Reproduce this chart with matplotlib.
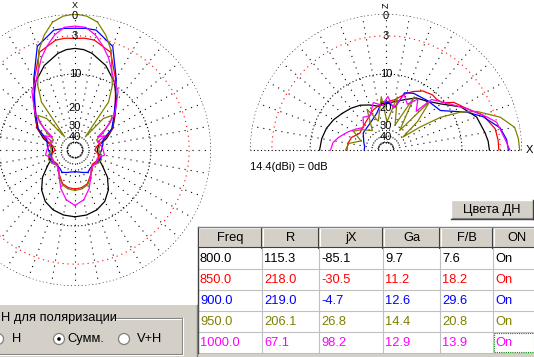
import numpy as np
import matplotlib.pyplot as plt
from matplotlib.patches import Rectangle, Circle

plt.rcParams['font.family'] = ['Liberation Sans', 'DejaVu Sans']

# --- tabla de resultados ---
freqs = [800.0, 850.0, 900.0, 950.0, 1000.0]
res_r = [115.3, 218.0, 219.0, 206.1, 67.1]
res_jx = [-85.1, -30.5, -4.7, 26.8, 98.2]
gain_ga = [9.7, 11.2, 12.6, 14.4, 12.9]
front_back = [7.6, 18.2, 29.6, 20.8, 13.9]
on_state = ["On", "On", "On", "On", "On"]
colors = ['#000000', '#ff0000', '#0000ff', '#808000', '#ff00ff']
headers = ["Freq", "R", "jX", "Ga", "F/B", "ON"]

# --- DN horizontal (dB, acimut 0..180, simetrico) ---
az_800 = [0, 5, 10, 20, 30, 40, 50, 60, 70, 80, 90, 100, 110, 120, 130, 140, 150, 160, 170, 180]
h_800 = [-5.0, -5.15, -5.6, -7.1, -9.4, -12.8, -16.5, -19.5, -24, -30, -31, -30, -29, -25, -20, -16.5, -14.2, -13.0, -12.4, -12.2]
az_850 = [0, 5, 10, 20, 30, 40, 50, 60, 70, 80, 90, 100, 110, 120, 130, 140, 150, 160, 170, 180]
h_850 = [-3.4, -3.3, -3.4, -4.6, -8.8, -13.3, -16.8, -19.5, -25, -31, -33, -30, -29, -30, -31, -28, -25.8, -22.8, -21.8, -21.4]
az_900 = [0, 5, 10, 20, 30, 40, 50, 60, 70, 80, 90, 100, 110, 120, 130, 140, 150, 160, 170, 180]
h_900 = [-1.9, -1.85, -1.9, -3.6, -8.6, -13.2, -17.0, -20, -26, -27, -28, -29, -27.5, -29, -30, -30, -28.5, -29.8, -31, -31.4]
az_950 = [0, 5, 10, 15, 20, 30, 35, 38, 42, 47, 52, 58, 65, 75, 90, 100, 110, 120, 130, 140, 150, 160, 170, 180]
h_950 = [0, -0.2, -0.8, -2.3, -4.3, -10.3, -14.5, -36, -20, -16.9, -19, -24, -30, -28, -30, -28, -27, -28, -30, -29, -25.2, -22.3, -21.2, -20.8]
az_1000 = [0, 5, 10, 15, 20, 30, 36, 40, 48, 55, 60, 65, 70, 80, 90, 100, 110, 120, 130, 140, 150, 160, 170, 180]
h_1000 = [-1.6, -1.7, -2.6, -4.0, -5.6, -9.4, -10.6, -12.6, -16.0, -22, -28, -24, -30, -28, -27, -26, -30, -29, -30, -29, -25, -20.5, -17, -15.4]

# --- DN vertical (dB, elevacion 0..180) ---
el_800 = [0, 5, 10, 20, 30, 40, 50, 60, 70, 80, 90, 100, 110, 120, 130, 140, 150, 160, 170, 180]
v_800 = [-4.7, -4.85, -5.2, -5.9, -7.8, -11, -13, -14, -16, -17.5, -18.5, -19.2, -17.9, -16.6, -15.7, -14.9, -13.9, -13.1, -12.6, -12.3]
el_850 = [0, 5, 11, 20, 27, 35, 40, 45, 50, 58, 65, 70, 80, 95, 108, 122, 135, 147, 160, 170, 180]
v_850 = [-3.2, -3.25, -3.45, -4.8, -6.9, -8.5, -10.5, -11.0, -10.9, -11.5, -12.8, -13.9, -16.8, -18.2, -20.2, -23, -24.5, -25.3, -22.5, -21.6, -21.4]
el_900 = [0, 5, 11, 19, 25, 36, 50, 64, 72, 78, 88, 95, 104, 120, 143, 160, 172, 180]
v_900 = [-1.8, -2.0, -2.7, -4.85, -7.2, -12.1, -12.8, -13.2, -14.0, -19.5, -18, -17.7, -21.9, -25.2, -26.8, -30, -31.6, -31.4]
el_950 = [0, 5, 10, 16, 23, 27, 31, 34, 37.5, 42, 48, 55, 62, 70, 78, 88, 95, 105, 115, 125, 140, 150, 160, 170, 180]
v_950 = [-0.3, -0.4, -0.7, -2.3, -5.5, -8.4, -13.1, -20.6, -32, -20, -12.5, -30, -14, -28, -15.8, -27, -16, -26, -19, -30, -25, -22, -28, -22, -20.8]
el_1000 = [0, 5, 14, 18, 27, 38, 48, 52, 58, 65, 72, 80, 88, 95, 105, 115, 125, 135, 145, 155, 165, 172, 180]
v_1000 = [-1.6, -2.2, -3.0, -4.2, -6.9, -9.9, -11.9, -17.5, -14, -17, -14.5, -20, -16, -19, -17.5, -22, -21, -25, -22.5, -20, -17.5, -16, -15.4]

grid_db = [0, -3, -10, -20, -30, -40]
grid_txt = ["0", "3", "10", "20", "30", "40"]

W, H = 534, 357


def to_r(db):
    # escala log ARRL: 0.89 por cada 2 dB
    return 0.89 ** (-np.asarray(db, dtype=float) / 2.0)


def draw_grid(ax, t0, t1, spokes):
    t = np.linspace(t0, t1, 500)
    for db, col, pat in [(0, 'k', (0, (1, 2.2))), (-3, 'red', (0, (1, 3.5))),
                         (-10, 'k', (0, (1, 2.2))), (-50, 'k', (0, (1, 1.5)))]:
        ax.plot(t, np.full_like(t, to_r(db)), color=col, lw=0.8, ls=pat)
    for a in spokes:
        ax.plot([a, a], [to_r(-50), 1.0], color='k', lw=0.8, ls=(0, (1, 4.5)))


def draw_labels(ax, theta):
    for db, txt in zip(grid_db, grid_txt):
        r = to_r(db)
        if db == 0:
            r = 0.985  # un poco bajo para no pisar el rotulo del eje
        ax.text(theta, r, txt, ha='center', va='center', fontsize=8)


fig = plt.figure(figsize=(W / 100, H / 100), dpi=100)
fig.patch.set_facecolor('white')

# --- polar izquierdo (horizontal) ---
cx, cy, R = 75, 150, 136
ax1 = fig.add_axes([(cx - R) / W, (H - cy - R) / H, 2 * R / W, 2 * R / H], projection='polar')
ax1.set_theta_zero_location('N')
ax1.set_theta_direction(-1)
ax1.set_ylim(0, 1)
ax1.set_axis_off()
draw_grid(ax1, 0, 2 * np.pi, np.deg2rad(np.arange(0, 360, 10)))

h_sets = [(az_800, h_800), (az_850, h_850), (az_900, h_900), (az_950, h_950), (az_1000, h_1000)]
for (az, db), c in zip(h_sets, colors):
    az = np.asarray(az, dtype=float)
    db = np.asarray(db, dtype=float)
    th = np.deg2rad(np.concatenate([-az[::-1], az[1:]]))
    rr = to_r(np.concatenate([db[::-1], db[1:]]))
    ax1.plot(th, rr, color=c, lw=0.9)

draw_labels(ax1, 0)
ax1.text(0, 1.062, "X", ha='center', va='center', fontsize=6.5, clip_on=False)

# --- polar derecho (vertical) ---
cx2 = 386
ax2 = fig.add_axes([(cx2 - R) / W, (H - cy - R) / H, 2 * R / W, 2 * R / H], projection='polar')
ax2.set_theta_zero_location('E')
ax2.set_ylim(0, 1)
ax2.set_axis_off()
draw_grid(ax2, 0, np.pi, np.deg2rad(np.arange(10, 180, 10)))
ax2.plot([0, 0], [0, 1], color='k', lw=0.8, ls=(0, (1, 2.2)))
ax2.plot([np.pi, np.pi], [0, 1], color='k', lw=0.8, ls=(0, (1, 2.2)))

v_sets = [(el_800, v_800), (el_850, v_850), (el_900, v_900), (el_950, v_950), (el_1000, v_1000)]
for (el, db), c in zip(v_sets, colors):
    ax2.plot(np.deg2rad(el), to_r(db), color=c, lw=0.9)

draw_labels(ax2, np.pi / 2)
ax2.text(np.pi / 2, 1.062, "Z", ha='center', va='center', fontsize=6.5, rotation=90, clip_on=False)
ax2.text(0, 1.03, "X", ha='left', va='center', fontsize=8, clip_on=False)

# --- capa de interfaz (pixeles) ---
ax0 = fig.add_axes([0, 0, 1, 1], zorder=10)
ax0.set_xlim(0, W)
ax0.set_ylim(H, 0)
ax0.axis('off')
ax0.patch.set_visible(False)

ax0.text(250, 167, "14.4(dBi) = 0dB", fontsize=8, ha='left', va='center')

gray = '#d4d0c8'
# boton
ax0.add_patch(Rectangle((451, 200), 82, 19, fc=gray, ec='none'))
ax0.plot([451, 533], [200, 200], color='white', lw=1)
ax0.plot([451, 451], [200, 219], color='white', lw=1)
ax0.plot([451, 533], [219, 219], color='#404040', lw=1)
ax0.plot([533, 533], [200, 219], color='#404040', lw=1)
ax0.plot([452, 532], [218, 218], color='#808080', lw=0.8)
ax0.text(492, 210, "Цвета ДН", fontsize=9.3, ha='center', va='center')

# tabla
col_x = [198, 262, 319, 383, 440, 493, 540]
row_y = [227, 248, 269, 290, 311, 332, 353]
ax0.add_patch(Rectangle((196, 353), 338, 4, fc=gray, ec='none'))
for i, hd in enumerate(headers):
    x0, x1 = col_x[i], col_x[i + 1]
    ax0.add_patch(Rectangle((x0, row_y[0]), x1 - x0, row_y[1] - row_y[0], fc=gray, ec='none'))
    ax0.plot([x0 + 1, x1 - 1], [row_y[0] + 1, row_y[0] + 1], color='white', lw=0.8)
    ax0.plot([x0 + 1, x0 + 1], [row_y[0] + 1, row_y[1] - 1], color='white', lw=0.8)
    ax0.plot([x1 - 1, x1 - 1], [row_y[0], row_y[1]], color='#404040', lw=0.8)
    ax0.plot([x0, x1], [row_y[1] - 1, row_y[1] - 1], color='#404040', lw=0.8)
    ax0.text((x0 + x1) / 2, (row_y[0] + row_y[1]) / 2 + 0.5, hd, fontsize=9.3, ha='center', va='center')

rows = [[f"{f:.1f}", f"{r:.1f}", f"{x:.1f}", f"{g:.1f}", f"{b:.1f}", o]
        for f, r, x, g, b, o in zip(freqs, res_r, res_jx, gain_ga, front_back, on_state)]
for j, (vals, c) in enumerate(zip(rows, colors)):
    y0, y1 = row_y[j + 1], row_y[j + 2]
    ax0.add_patch(Rectangle((col_x[0], y0), col_x[-1] - col_x[0], y1 - y0, fc='white', ec='none'))
    ax0.plot([col_x[0], col_x[-1]], [y1, y1], color='#c0c0c0', lw=0.8)
    for i, v in enumerate(vals):
        ax0.text(col_x[i] + 2, (y0 + y1) / 2 + 0.5, v, color=c, fontsize=9.3, ha='left', va='center')
for x in col_x[1:-1]:
    ax0.plot([x, x], [row_y[1], row_y[-1]], color='#c0c0c0', lw=0.8)
ax0.plot([col_x[0], col_x[0]], [row_y[0], row_y[-1]], color='#404040', lw=1)
ax0.plot([col_x[0], W], [row_y[0], row_y[0]], color='#808080', lw=1)
ax0.add_patch(Rectangle((494, 333), 40, 19, fill=False, ec='#008000', lw=0.8, ls=(0, (1, 1))))

# panel de polarizacion
ax0.add_patch(Rectangle((0, 305), 197, 52, fc=gray, ec='none'))
ax0.plot([197, 197], [305, 357], color='#808080', lw=1)
ax0.plot([113, 182], [318, 318], color='#808080', lw=0.8)
ax0.plot([113, 182], [319, 319], color='white', lw=0.8)
ax0.plot([182, 182], [318, 354], color='#808080', lw=0.8)
ax0.plot([183, 183], [318, 355], color='white', lw=0.8)
ax0.plot([0, 182], [354, 354], color='#808080', lw=0.8)
ax0.plot([0, 183], [355, 355], color='white', lw=0.8)
ax0.text(1, 318, "Н для поляризации", fontsize=9.3, ha='left', va='center')

for xc, sel in [(-2, False), (59, True), (124, False)]:
    ax0.add_patch(Circle((xc, 339), 5.5, fc='white', ec='#808080', lw=0.9))
    if sel:
        ax0.add_patch(Circle((xc, 339), 1.8, fc='black', ec='none'))
ax0.text(12, 339, "H", fontsize=9.3, ha='left', va='center')
ax0.text(67, 339, "Сумм.", fontsize=9.3, ha='left', va='center')
ax0.text(137, 339, "V+H", fontsize=9.3, ha='left', va='center')

fig.savefig("out.png", dpi=100)
